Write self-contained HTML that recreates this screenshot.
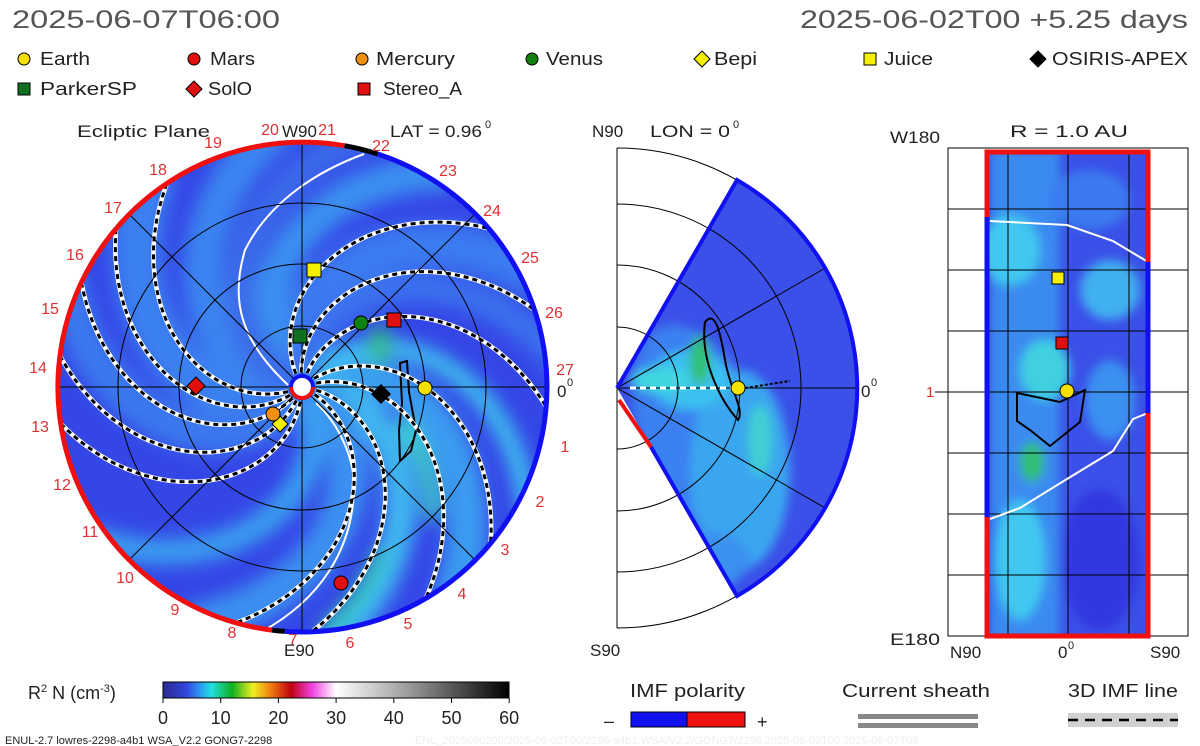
<!DOCTYPE html>
<html><head><meta charset="utf-8"><style>
html,body{margin:0;padding:0;background:#fff;}
svg{display:block;font-family:"Liberation Sans",sans-serif;}
</style></head><body>
<svg id="s" width="1200" height="746" viewBox="0 0 1200 746" xmlns="http://www.w3.org/2000/svg">
<defs>
<filter id="bl" x="-50%" y="-50%" width="200%" height="200%"><feGaussianBlur stdDeviation="9"/></filter>
<filter id="bl2" x="-50%" y="-50%" width="200%" height="200%"><feGaussianBlur stdDeviation="5"/></filter>
<clipPath id="cc"><circle cx="302" cy="387" r="245"/></clipPath>
<clipPath id="wc"><path d="M617,388 L737,180 A240,240 0 0 1 737,596 Z"/></clipPath>
<clipPath id="rc"><rect x="987" y="152" width="161" height="484"/></clipPath>
<linearGradient id="cb" x1="0" x2="1" y1="0" y2="0">
<stop offset="0" stop-color="#2a2a90"/><stop offset="0.07" stop-color="#3348e0"/><stop offset="0.11" stop-color="#2aa0f0"/><stop offset="0.14" stop-color="#20e0e0"/><stop offset="0.2" stop-color="#10b020"/><stop offset="0.26" stop-color="#f0f020"/><stop offset="0.31" stop-color="#f08010"/><stop offset="0.37" stop-color="#c00010"/><stop offset="0.43" stop-color="#f040e0"/><stop offset="0.5" stop-color="#ffffff"/><stop offset="0.7" stop-color="#a0a0a0"/><stop offset="1" stop-color="#000"/>
</linearGradient>
</defs>

<!-- header -->
<text x="12" y="28" font-size="25" fill="#555" textLength="268" lengthAdjust="spacingAndGlyphs">2025-06-07T06:00</text>
<text x="800" y="28" font-size="25" fill="#555" textLength="388" lengthAdjust="spacingAndGlyphs">2025-06-02T00 +5.25 days</text>
<g font-size="18" fill="#222" lengthAdjust="spacingAndGlyphs">
<circle cx="24" cy="59" r="6" fill="#f5e000" stroke="#000"/><text x="40" y="65" textLength="50" lengthAdjust="spacingAndGlyphs">Earth</text>
<circle cx="194" cy="59" r="6" fill="#e01010" stroke="#000"/><text x="210" y="65" textLength="45" lengthAdjust="spacingAndGlyphs">Mars</text>
<circle cx="362" cy="59" r="6" fill="#f09010" stroke="#000"/><text x="376" y="65" textLength="79" lengthAdjust="spacingAndGlyphs">Mercury</text>
<circle cx="532" cy="59" r="6" fill="#108010" stroke="#000"/><text x="546" y="65" textLength="57" lengthAdjust="spacingAndGlyphs">Venus</text>
<path d="M702,51 L710,59 L702,67 L694,59Z" fill="#f5f000" stroke="#000"/><text x="714" y="65" textLength="43" lengthAdjust="spacingAndGlyphs">Bepi</text>
<rect x="864" y="53" width="12" height="12" fill="#f5f000" stroke="#000"/><text x="884" y="65" textLength="49" lengthAdjust="spacingAndGlyphs">Juice</text>
<path d="M1038,51 L1046,59 L1038,67 L1030,59Z" fill="#000" stroke="#000"/><text x="1052" y="65" textLength="136" lengthAdjust="spacingAndGlyphs">OSIRIS-APEX</text>
<rect x="18" y="83" width="12" height="12" fill="#107020" stroke="#000"/><text x="40" y="95" textLength="97" lengthAdjust="spacingAndGlyphs">ParkerSP</text>
<path d="M194,81 L202,89 L194,97 L186,89Z" fill="#e01010" stroke="#000"/><text x="208" y="95" textLength="44" lengthAdjust="spacingAndGlyphs">SolO</text>
<rect x="358" y="83" width="12" height="12" fill="#e01010" stroke="#000"/><text x="383" y="95" textLength="79" lengthAdjust="spacingAndGlyphs">Stereo_A</text>
</g>

<!-- left panel -->
<g clip-path="url(#cc)">
<rect x="50" y="140" width="510" height="500" fill="#3446e6"/>
<g id="bands" filter="url(#bl)" fill="none" stroke-linecap="round"></g>
</g>
<path d="M400,363 L407,361 L409,392 L416,430 L411,451 L400,461 L399,430 L402,403 Z" fill="none" stroke="#000" stroke-width="2"/>
<path d="M364,154 C320,170 270,200 245,250 C230,300 240,340 288,385" fill="none" stroke="#fff" stroke-width="2"/>
<path d="M316,403 C340,425 355,460 354,490 C352,550 320,600 261,632" fill="none" stroke="#fff" stroke-width="2"/>
<g id="lsp" clip-path="url(#cc)"></g>
<g id="lgrid" fill="none" stroke="#000" stroke-width="1"></g>
<path id="rimR" fill="none" stroke="#f01010" stroke-width="5"/>
<path id="rimB" fill="none" stroke="#1010f0" stroke-width="5"/>
<circle cx="302" cy="387" r="11" fill="#fff" stroke="#1010f0" stroke-width="4"/>
<path d="M291,387 A11,11 0 0 0 313,387" fill="none" stroke="#f01010" stroke-width="4"/>
<!-- bodies -->
<circle cx="341" cy="583" r="7" fill="#e01010" stroke="#000"/>
<circle cx="361" cy="323" r="7" fill="#108010" stroke="#000"/>
<rect x="293" y="329" width="14" height="14" fill="#107020" stroke="#000"/>
<rect x="307" y="263" width="14" height="14" fill="#f5f000" stroke="#000"/>
<rect x="387" y="313" width="14" height="14" fill="#e01010" stroke="#000"/>
<path d="M196,377 L205,386 L196,395 L187,386Z" fill="#e01010" stroke="#000"/>
<path d="M381,384 L391,394 L381,404 L371,394Z" fill="#000"/>
<path d="M280,416 L288,424 L280,432 L272,424Z" fill="#f5f000" stroke="#000"/>
<circle cx="273" cy="414" r="7" fill="#f09010" stroke="#000"/>
<circle cx="425" cy="388" r="7" fill="#f5e000" stroke="#000"/>
<g id="lnum" font-size="16" fill="#e03030" text-anchor="middle"></g>
<g font-size="17" fill="#222">
<text x="77" y="137" textLength="133" lengthAdjust="spacingAndGlyphs">Ecliptic Plane</text>
<text x="282" y="137">W90</text>
<text x="390" y="137" textLength="92" lengthAdjust="spacingAndGlyphs">LAT = 0.96</text><text x="485" y="128" font-size="11">0</text>
<text x="284" y="656">E90</text>
<text x="557" y="397">0</text><text x="567" y="386" font-size="11">0</text>
</g>

<!-- middle panel -->
<g fill="none" stroke="#000" stroke-width="1" id="mgrid"></g>
<g clip-path="url(#wc)">
<rect x="610" y="170" width="260" height="440" fill="#3a50e8"/>
<g filter="url(#bl2)">
<ellipse cx="700" cy="430" rx="60" ry="110" fill="#3a80f0" transform="rotate(-20 700 430)"/>
<ellipse cx="740" cy="470" rx="50" ry="100" fill="#3aa6f0"/>
<ellipse cx="690" cy="380" rx="40" ry="30" fill="#3ac0f0"/>
<ellipse cx="700" cy="360" rx="10" ry="25" fill="#30c070"/>
<ellipse cx="660" cy="380" rx="30" ry="12" fill="#40d8e0"/>
<ellipse cx="760" cy="440" rx="12" ry="35" fill="#40d0d0"/>
<ellipse cx="700" cy="560" rx="50" ry="30" fill="#3a90f0"/>
</g>
<g fill="none" stroke="#000" stroke-width="1">
<circle cx="617" cy="388" r="61"/><circle cx="617" cy="388" r="123"/><circle cx="617" cy="388" r="184"/>
<line x1="617" y1="388" x2="860" y2="388"/><line x1="617" y1="388" x2="827" y2="267"/><line x1="617" y1="388" x2="827" y2="509"/>
</g>
</g>
<path d="M705,322 C715,310 720,330 725,360 C730,390 745,410 738,420 C720,400 700,360 705,322Z" fill="none" stroke="#000" stroke-width="2"/>
<line x1="630" y1="388" x2="735" y2="388" stroke="#fff" stroke-width="3" stroke-dasharray="6,4"/>
<line x1="745" y1="388" x2="790" y2="381" stroke="#000" stroke-width="2" stroke-dasharray="3,2"/>
<path d="M617,388 L737,180 A240,240 0 0 1 737,596 L651,447" fill="none" stroke="#1010f0" stroke-width="4"/>
<line x1="619" y1="400" x2="651" y2="447" stroke="#f01010" stroke-width="4"/>
<circle cx="738" cy="388" r="7" fill="#f5e000" stroke="#000"/>
<g font-size="17" fill="#222">
<text x="592" y="137">N90</text><text x="650" y="137" textLength="80" lengthAdjust="spacingAndGlyphs">LON = 0</text><text x="733" y="128" font-size="11">0</text>
<text x="590" y="656">S90</text>
<text x="861" y="397">0</text><text x="871" y="386" font-size="11">0</text>
</g>

<!-- right panel -->
<g clip-path="url(#rc)">
<rect x="987" y="152" width="161" height="484" fill="#3a50e8"/>
<g filter="url(#bl2)">
<rect x="990" y="150" width="70" height="490" fill="#3a8af0"/>
<ellipse cx="1010" cy="250" rx="30" ry="35" fill="#40c8f0"/>
<ellipse cx="1090" cy="200" rx="40" ry="30" fill="#3a7af0"/>
<ellipse cx="1110" cy="290" rx="30" ry="30" fill="#40b0f0"/>
<ellipse cx="1045" cy="370" rx="25" ry="30" fill="#40d0e0"/>
<ellipse cx="1032" cy="462" rx="12" ry="20" fill="#30c070"/>
<ellipse cx="1020" cy="560" rx="25" ry="60" fill="#40c8f0"/>
<ellipse cx="1100" cy="560" rx="40" ry="70" fill="#3038e0"/>
<ellipse cx="1110" cy="400" rx="25" ry="40" fill="#3a90f0"/>
</g>
</g>
<g stroke="#000" stroke-width="1" fill="none">
<rect x="948" y="148" width="240" height="488"/>
<line x1="948" y1="209" x2="1188" y2="209"/><line x1="948" y1="270" x2="1188" y2="270"/><line x1="948" y1="331" x2="1188" y2="331"/><line x1="935" y1="392" x2="1188" y2="392"/><line x1="948" y1="453" x2="1188" y2="453"/><line x1="948" y1="514" x2="1188" y2="514"/><line x1="948" y1="575" x2="1188" y2="575"/>
<line x1="1008" y1="152" x2="1008" y2="636"/><line x1="1068" y1="152" x2="1068" y2="636"/><line x1="1129" y1="152" x2="1129" y2="636"/>
</g>
<path d="M990,221 L1067,225 L1113,241 L1148,262" fill="none" stroke="#fff" stroke-width="2"/>
<path d="M1148,413 L1133,419 L1113,451 L1067,479 L1020,508 L990,519" fill="none" stroke="#fff" stroke-width="2"/>
<path d="M1017,393 L1060,402 L1085,390 L1080,422 L1050,446 L1030,430 L1017,421Z" fill="none" stroke="#000" stroke-width="2"/>
<g fill="none" stroke-width="5">
<path d="M987,217 L987,152 L1148,152 L1148,262" stroke="#f01010"/>
<path d="M987,217 L987,517" stroke="#1010f0"/>
<path d="M1148,262 L1148,413" stroke="#1010f0"/>
<path d="M987,517 L987,636 L1148,636 L1148,413" stroke="#f01010"/>
</g>
<rect x="1052" y="272" width="12" height="12" fill="#f5f000" stroke="#000"/>
<rect x="1056" y="337" width="12" height="12" fill="#e01010" stroke="#000"/>
<circle cx="1067" cy="391" r="7" fill="#f5e000" stroke="#000"/>
<g font-size="17" fill="#222">
<text x="1010" y="137" textLength="118" lengthAdjust="spacingAndGlyphs">R = 1.0 AU</text>
<text x="890" y="143" textLength="50" lengthAdjust="spacingAndGlyphs">W180</text><text x="890" y="645" textLength="50" lengthAdjust="spacingAndGlyphs">E180</text>
<text x="950" y="658">N90</text><text x="1058" y="658">0</text><text x="1068" y="649" font-size="11">0</text><text x="1150" y="658">S90</text>
<text x="926" y="397" fill="#e03030" font-size="15">1</text>
</g>

<!-- colorbar -->
<text x="28" y="699" font-size="18" fill="#222">R<tspan font-size="11" dy="-7">2</tspan><tspan dy="7"> N (cm</tspan><tspan font-size="11" dy="-7">-3</tspan><tspan dy="7">)</tspan></text>
<rect x="163" y="682" width="346" height="16" fill="url(#cb)" stroke="#000"/>
<g font-size="18" fill="#222" text-anchor="middle" id="cbt"></g>
<g stroke="#000" id="cbk"></g>
<text x="630" y="697" font-size="18" fill="#222" textLength="115" lengthAdjust="spacingAndGlyphs">IMF polarity</text>
<text x="604" y="727" font-size="18" fill="#222">–</text>
<rect x="631" y="712" width="56" height="15" fill="#1010f0" stroke="#000"/>
<rect x="687" y="712" width="58" height="15" fill="#f01010" stroke="#000"/>
<text x="757" y="728" font-size="18" fill="#222">+</text>
<text x="842" y="697" font-size="18" fill="#222" textLength="148" lengthAdjust="spacingAndGlyphs">Current sheath</text>
<rect x="858" y="714" width="120" height="5" fill="#888"/>
<rect x="858" y="723" width="120" height="5" fill="#888"/>
<text x="1068" y="697" font-size="18" fill="#222" textLength="110" lengthAdjust="spacingAndGlyphs">3D IMF line</text>
<rect x="1068" y="713" width="110" height="14" fill="#d0d0d0"/>
<line x1="1068" y1="720" x2="1178" y2="720" stroke="#000" stroke-width="2.5" stroke-dasharray="10,7"/>
<text x="5" y="744" font-size="11" fill="#222">ENUL-2.7 lowres-2298-a4b1 WSA_V2.2 GONG7-2298</text>
<text x="415" y="744" font-size="11" fill="#eee">ENL_2025060200/2025-06-02T00/2298-a4b1.WSA/V2.2/GONG7/2298 2025-06-02T00 2025-06-07T06</text>
</svg>
<script>
var NS="http://www.w3.org/2000/svg",cx=302,cy=387,AU=123;
function el(t,a,p){var e=document.createElementNS(NS,t);for(var k in a)e.setAttribute(k,a[k]);document.getElementById(p).appendChild(e);return e;}
function spiral(p1,k,r0,r1){var d="";for(var r=r0;r<=r1;r+=0.02){var a=(p1-k*(r-1))*Math.PI/180;d+=(d?"L":"M")+(cx+r*AU*Math.cos(a)).toFixed(1)+","+(cy-r*AU*Math.sin(a)).toFixed(1);}return d;}
var bands=[[70,"#3a7cf0",45],[100,"#3a90f0",35],[-10,"#3a9cf0",40],[-40,"#40b8f0",32],[-70,"#3a90f0",40],[15,"#40c8f0",18],[170,"#3a80f0",50],[200,"#3a78ee",40],[140,"#3a84f0",40],[120,"#3a6aea",30],[-100,"#3aa0f0",25],[50,"#3a70ee",30]];
bands.forEach(function(b){el("path",{d:spiral(b[0],40,0.2,2.1),stroke:b[1],"stroke-width":b[2]},"bands");});
el("path",{d:spiral(-25,40,0.9,1.5),stroke:"#40e0c0","stroke-width":14},"bands");
el("path",{d:spiral(-45,40,1.5,2.0),stroke:"#30d0a0","stroke-width":12},"bands");
el("ellipse",{cx:380,cy:345,rx:10,ry:20,fill:"#30c070"},"bands");
[35,58,80,0,-20,-48,-66,163,179,194,212,228].forEach(function(p){var d=spiral(p,40,0.12,2.05);
el("path",{d:d,fill:"none",stroke:"#fff","stroke-width":4.5},"lsp");
el("path",{d:d,fill:"none",stroke:"#000","stroke-width":3,"stroke-dasharray":"5,4"},"lsp");});
[61,123,184].forEach(function(r){el("circle",{cx:cx,cy:cy,r:r},"lgrid");});
for(var i=0;i<4;i++){var a=i*Math.PI/4;el("line",{x1:cx-245*Math.cos(a),y1:cy-245*Math.sin(a),x2:cx+245*Math.cos(a),y2:cy+245*Math.sin(a)},"lgrid");}
function pt(a){a=a*Math.PI/180;return (cx+245*Math.cos(a)).toFixed(1)+","+(cy-245*Math.sin(a)).toFixed(1);}
document.getElementById("rimR").setAttribute("d","M"+pt(80)+" A245,245 0 1 0 "+pt(263));
document.getElementById("rimB").setAttribute("d","M"+pt(72)+" A245,245 0 0 1 "+pt(-94));
el("path",{d:"M"+pt(80)+" A245,245 0 0 1 "+pt(72),fill:"none",stroke:"#000","stroke-width":5},"lgrid");
el("path",{d:"M"+pt(263)+" A245,245 0 0 0 "+pt(266),fill:"none",stroke:"#000","stroke-width":5},"lgrid");
var pos=[[565,452,1],[540,507,2],[505,555,3],[462,599,4],[408,629,5],[350,648,6],[293,645,7],[232,638,8],[175,615,9],[125,583,10],[90,537,11],[62,490,12],[40,432,13],[38,373,14],[50,314,15],[75,260,16],[113,213,17],[158,175,18],[213,148,19],[270,135,20],[327,135,21],[381,151,22],[448,176,23],[492,216,24],[530,263,25],[554,318,26],[565,375,27]];
pos.forEach(function(p){var t=el("text",{x:p[0],y:p[1]},"lnum");t.textContent=p[2];});
el("line",{x1:617,y1:148,x2:617,y2:628},"mgrid");
[61,123,184,240].forEach(function(r){el("path",{d:"M617,"+(388-r)+" A"+r+","+r+" 0 0 1 617,"+(388+r)},"mgrid");});
for(var i=0;i<=6;i++){var x=163+i*57.7;var t=el("text",{x:x,y:724},"cbt");t.textContent=i*10;el("line",{x1:x,y1:698,x2:x,y2:703},"cbk");}
</script>
</body></html>
